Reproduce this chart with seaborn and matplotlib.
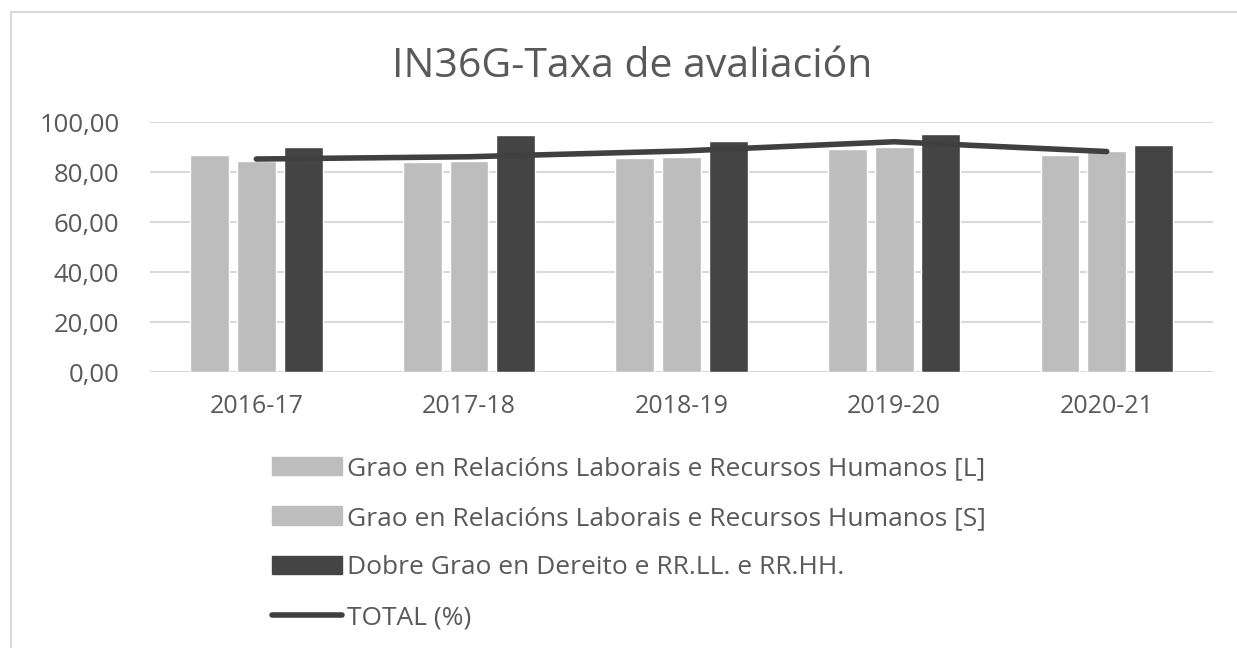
import numpy as np
import pandas as pd
import matplotlib
matplotlib.use("Agg")
import matplotlib.pyplot as plt
from matplotlib.lines import Line2D
import seaborn as sns

years = ["2016-17", "2017-18", "2018-19", "2019-20", "2020-21"]
series_names = [
    "Grao en Relacións Laborais e Recursos Humanos [L]",
    "Grao en Relacións Laborais e Recursos Humanos [S]",
    "Dobre Grao en Dereito e RR.LL. e RR.HH.",
]
grao_l = [86.7, 84.1, 85.7, 89.4, 87.0]
grao_s = [84.4, 84.6, 86.1, 90.1, 88.5]
dobre = [90.1, 94.7, 92.4, 95.2, 90.8]
total = [85.2, 86.1, 88.4, 92.1, 88.2]
total_name = "TOTAL (%)"
yticks = [0, 20, 40, 60, 80, 100]
title = "IN36G-Taxa de avaliación"

sns.set_theme(style="white")
plt.rcParams["font.family"] = ["Open Sans", "DejaVu Sans"]

df = pd.DataFrame({
    "year": years * 3,
    "serie": [series_names[0]] * 5 + [series_names[1]] * 5 + [series_names[2]] * 5,
    "value": grao_l + grao_s + dobre,
})

txt = "#595959"
light = "#BDBDBD"
dark = "#444444"

fig = plt.figure(figsize=(12.37, 6.48), dpi=100)
ax = fig.add_axes([0.1213, 0.4259, 0.8593, 0.3858])

sns.barplot(data=df, x="year", y="value", hue="serie", order=years,
            hue_order=series_names, palette=[light, light, dark],
            width=0.66, gap=0.17, ax=ax, legend=False, saturation=1)
sns.lineplot(x=np.arange(len(years)), y=total, ax=ax, color="#404040",
             linewidth=4.0, solid_capstyle="round", legend=False)

ax.set_xlim(-0.5, len(years) - 0.5)
ax.set_ylim(0, 100)
ax.set_yticks(yticks)
ax.set_yticklabels([f"{v:.2f}".replace(".", ",") for v in yticks])
ax.set_xticks(range(len(years)))
ax.set_xticklabels(years)
ax.set_xlabel("")
ax.set_ylabel("")
ax.grid(axis="y", color="#D9D9D9", linewidth=1.5)
ax.set_axisbelow(True)
for s in ax.spines.values():
    s.set_visible(False)
ax.tick_params(axis="y", labelsize=18.5, colors=txt, pad=22, length=0)
ax.tick_params(axis="x", labelsize=18, colors=txt, pad=16, length=0)

fig.text(0.511, 0.897, title, ha="center", va="center", fontsize=29.5, color=txt)

handles = [
    plt.Rectangle((0, 0), 1, 1, color=light),
    plt.Rectangle((0, 0), 1, 1, color=light),
    plt.Rectangle((0, 0), 1, 1, color=dark),
    Line2D([0], [0], color="#404040", linewidth=4.0, solid_capstyle="round"),
]
leg = fig.legend(handles, series_names + [total_name], loc="upper left",
                 bbox_to_anchor=(0.2115, 0.312), frameon=False, fontsize=19,
                 handlelength=2.65, handletextpad=0.2, labelspacing=0.93,
                 borderaxespad=0)
for t in leg.get_texts():
    t.set_color(txt)

fig.add_artist(Line2D([11 / 1237, 1], [1 - 12 / 648, 1 - 12 / 648],
                      transform=fig.transFigure, color="#D9D9D9", linewidth=1.5))
fig.add_artist(Line2D([11 / 1237, 11 / 1237], [0, 1 - 12 / 648],
                      transform=fig.transFigure, color="#D9D9D9", linewidth=1.5))

fig.savefig("out.png", dpi=100, facecolor="white")
